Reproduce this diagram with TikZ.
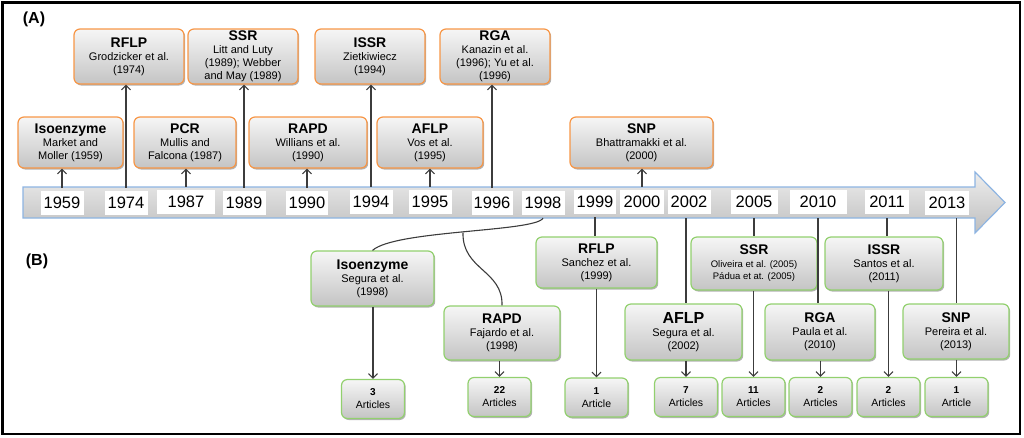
\documentclass[tikz,border=0pt]{standalone}
\usepackage{fontspec}
\setmainfont{Liberation Sans}
\usetikzlibrary{arrows.meta,shadows}
\definecolor{orangeb}{RGB}{247,150,70}
\definecolor{greenb}{RGB}{146,208,110}
\definecolor{boxtop}{RGB}{246,246,246}
\definecolor{boxbot}{RGB}{196,196,196}
\definecolor{linec}{RGB}{60,60,60}
\definecolor{tlblue}{RGB}{141,180,226}
\definecolor{tltop}{RGB}{238,238,238}
\definecolor{tlbot}{RGB}{190,190,190}
\newcommand\myfs[2]{\fontsize{#1}{#2}\selectfont}
\begin{document}
\begin{tikzpicture}[x=1pt,y=-1pt,
  base/.style={rectangle, rounded corners=6pt, top color=boxtop, bottom color=boxbot,
    line width=1.2pt, align=center, inner sep=1pt, font=\myfs{11}{13},
    drop shadow={shadow xshift=1.2pt, shadow yshift=-1.5pt, opacity=0.3, fill=black}},
  obox/.style={base, draw=orangeb},
  gbox/.style={base, draw=greenb},
  abox/.style={gbox, minimum width=63pt, minimum height=39pt, font=\myfs{10.5}{13}},
  yr/.style={fill=white, minimum height=24pt, minimum width=43pt, inner sep=0pt, font=\myfs{16.5}{18}},
  link/.style={draw=linec, line width=1.1pt},
  arr/.style={link, -{Straight Barb[length=4.5pt,width=9pt]}},
  ttl/.style={font=\myfs{14}{16}\bfseries}
]
\useasboundingbox (0,0) rectangle (1024,437);
\draw[line width=2.5pt] (2.5,2.5) rectangle (1020,434);

% labels
\node[font=\myfs{16}{18}\bfseries] (lA) at (34,19) {(A)};
\node[font=\myfs{16}{18}\bfseries] (lB) at (37,261) {(B)};

% timeline arrow
\draw[tlblue, line width=1.2pt, top color=tltop, bottom color=tlbot]
  (23,187) -- (975,187) -- (975,172) -- (1005,202.5) -- (975,233) -- (975,218) -- (23,218) -- cycle;

% years
\node[yr] (y1959) at (62,203) {1959};
\node[yr] (y1974) at (126,203) {1974};
\node[yr, minimum width=58pt] (y1987) at (186,202) {1987};
\node[yr] (y1989) at (244,203) {1989};
\node[yr, minimum width=42pt] (y1990) at (307,203) {1990};
\node[yr] (y1994) at (371,202) {1994};
\node[yr] (y1995) at (430,202) {1995};
\node[yr, minimum width=41pt] (y1996) at (492,203) {1996};
\node[yr] (y1998) at (543,203) {1998};
\node[yr, minimum width=42pt] (y1999) at (595,202) {1999};
\node[yr, minimum width=44pt] (y2000) at (642,202) {2000};
\node[yr] (y2002) at (689,202) {2002};
\node[yr, minimum width=47pt] (y2005) at (754,202) {2005};
\node[yr, minimum width=57pt] (y2010) at (818,202) {2010};
\node[yr, minimum width=44pt] (y2011) at (887,202) {2011};
\node[yr, minimum width=44pt] (y2013) at (947,203) {2013};

% (A) top row
\node[obox, minimum width=110pt, minimum height=55pt] (rflp) at (129,56.5)
  {\textbf{\myfs{14}{16}RFLP}\\Grodzicker et al.\\(1974)};
\node[obox, minimum width=110pt, minimum height=55pt] (ssr) at (243,56.5)
  {\textbf{\myfs{14}{15}SSR}\\Litt and Luty\\(1989); Webber\\and May (1989)};
\node[obox, minimum width=110pt, minimum height=55pt] (issr) at (370,56.5)
  {\textbf{\myfs{14}{16}ISSR}\\Zietkiwiecz\\(1994)};
\node[obox, minimum width=110pt, minimum height=55pt] (rga) at (495,56.5)
  {\textbf{\myfs{14}{15}RGA}\\Kanazin et al.\\(1996); Yu et al.\\(1996)};
% (A) second row
\node[obox, minimum width=105pt, minimum height=51pt] (iso) at (70.5,142.5)
  {\textbf{\myfs{14}{16}Isoenzyme}\\Market and\\Moller (1959)};
\node[obox, minimum width=102pt, minimum height=51pt] (pcr) at (185,142.5)
  {\textbf{\myfs{14}{16}PCR}\\Mullis and\\Falcona (1987)};
\node[obox, minimum width=118pt, minimum height=51pt] (rapd) at (308,142.5)
  {\textbf{\myfs{14}{16}RAPD}\\Willians et al.\\(1990)};
\node[obox, minimum width=106pt, minimum height=51pt] (aflp) at (430,142.5)
  {\textbf{\myfs{14}{16}AFLP}\\Vos et al.\\(1995)};
\node[obox, minimum width=143pt, minimum height=51pt] (snp) at (641.5,142.5)
  {\textbf{\myfs{14}{16}SNP}\\Bhattramakki et al.\\(2000)};

% (A) connectors
\draw[arr] ([yshift=3pt]y1959.north) -- (y1959.north |- iso.south);
\draw[arr] ([yshift=3pt]y1974.north) -- (y1974.north |- rflp.south);
\draw[arr] ([yshift=3pt]y1987.north) -- (y1987.north |- pcr.south);
\draw[arr] ([yshift=3pt]y1989.north) -- (y1989.north |- ssr.south);
\draw[arr] ([yshift=3pt]y1990.north) -- (y1990.north |- rapd.south);
\draw[arr] ([yshift=3pt]y1994.north) -- (y1994.north |- issr.south);
\draw[arr] ([yshift=3pt]y1995.north) -- (y1995.north |- aflp.south);
\draw[arr] ([yshift=3pt]y1996.north) -- (y1996.north |- rga.south);
\draw[arr] ([yshift=3pt]y2000.north) -- (y2000.north |- snp.south);

% (B) boxes
\node[gbox, minimum width=123pt, minimum height=55pt] (biso) at (372.5,278.5)
  {\textbf{\myfs{14}{16}Isoenzyme}\\Segura et al.\\(1998)};
\node[gbox, minimum width=116pt, minimum height=54pt] (brapd) at (502,333)
  {\textbf{\myfs{14}{16}RAPD}\\Fajardo et al.\\(1998)};
\node[gbox, minimum width=121pt, minimum height=51pt] (brflp) at (596.5,262.5)
  {\textbf{\myfs{14}{16}RFLP}\\Sanchez et al.\\(1999)};
\node[gbox, minimum width=126pt, minimum height=53pt, font=\myfs{9.5}{12.5}] (bssr) at (754,263.5)
  {\textbf{\myfs{14}{16}SSR}\\Oliveira et al. (2005)\\Pádua et at. (2005)};
\node[gbox, minimum width=118pt, minimum height=53pt] (bissr) at (884,263.5)
  {\textbf{\myfs{14}{16}ISSR}\\Santos et al.\\(2011)};
\node[gbox, minimum width=117pt, minimum height=56pt] (baflp) at (683.5,332)
  {\textbf{\myfs{16}{18}AFLP}\\Segura et al.\\(2002)};
\node[gbox, minimum width=110pt, minimum height=56pt] (brga) at (820,332)
  {\textbf{\myfs{14}{16}RGA}\\Paula et al.\\(2010)};
\node[gbox, minimum width=106pt, minimum height=55pt] (bsnp) at (956,331.5)
  {\textbf{\myfs{14}{16}SNP}\\Pereira et al.\\(2013)};

% articles
\node[abox] (a3) at (373,399) {\textbf{\myfs{10}{12}3}\\Articles};
\node[abox] (a22) at (499.5,397) {\textbf{\myfs{10}{12}22}\\Articles};
\node[abox] (a1) at (596.5,397.5) {\textbf{\myfs{10}{12}1}\\Article};
\node[abox] (a7) at (686,397) {\textbf{\myfs{10}{12}7}\\Articles};
\node[abox] (a11) at (753.5,397) {\textbf{\myfs{10}{12}11}\\Articles};
\node[abox] (a2r) at (820.5,397) {\textbf{\myfs{10}{12}2}\\Articles};
\node[abox] (a2i) at (888.5,397) {\textbf{\myfs{10}{12}2}\\Articles};
\node[abox] (a1s) at (956.5,397) {\textbf{\myfs{10}{12}1}\\Article};

% (B) connectors
\coordinate (branch) at (463,232.5);
\draw[link] ([yshift=-3pt]y1998.south) .. controls (535,232) and (395,230) .. (biso.north);
\draw[link] (branch) .. controls (462,270) and (503,270) .. (brapd.north);
\draw[link] ([yshift=-3pt]y1999.south) -- (y1999.south |- brflp.north);
\draw[link] ([yshift=-4pt]a7.north |- y2002.south) -- (a7.north |- baflp.north);
\draw[link] ([yshift=-4pt]y2005.south) -- (y2005.south |- bssr.north);
\draw[link] ([yshift=-4pt]y2010.south) -- (y2010.south |- brga.north);
\draw[link] ([yshift=-4pt]y2011.south) -- (y2011.south |- bissr.north);
\draw[link] ([yshift=-3pt]a1s.north |- y2013.south) -- (a1s.north |- bsnp.north);

\draw[arr] (biso.south -| a3.north) -- (a3.north);
\draw[arr] (brapd.south -| a22.north) -- (a22.north);
\draw[arr] (brflp.south -| a1.north) -- (a1.north);
\draw[arr] (baflp.south -| a7.north) -- (a7.north);
\draw[arr] (bssr.south -| a11.north) -- (a11.north);
\draw[arr] (brga.south -| a2r.north) -- (a2r.north);
\draw[arr] (bissr.south -| a2i.north) -- (a2i.north);
\draw[arr] (bsnp.south -| a1s.north) -- (a1s.north);
\end{tikzpicture}
\end{document}
